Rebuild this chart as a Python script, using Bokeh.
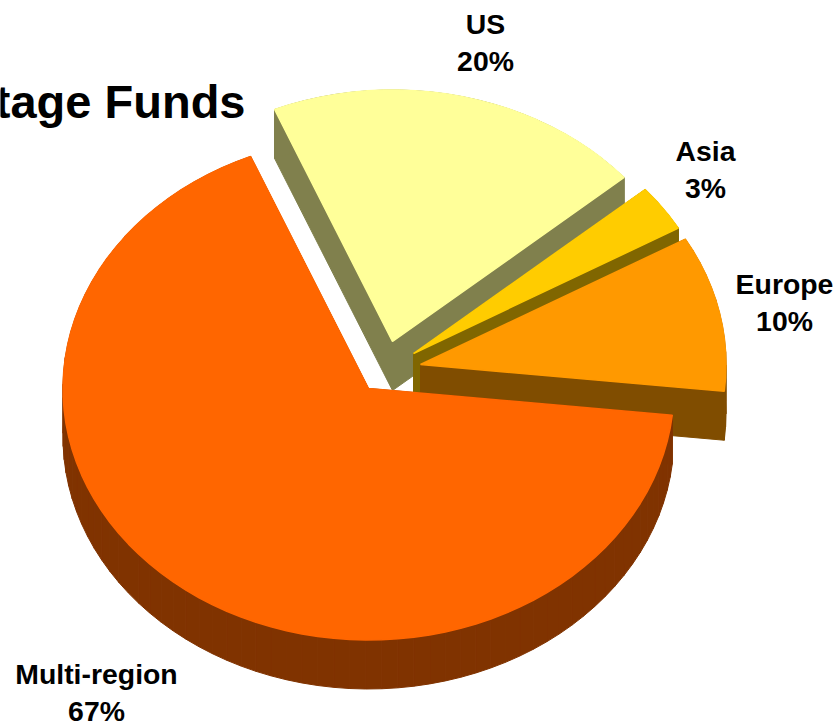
import math
from bokeh.plotting import figure
from bokeh.models import Range1d
from bokeh.core.properties import value
from bokeh.embed import file_html
from bokeh.resources import INLINE

# data
categories = ["US", "Asia", "Europe", "Multi-region"]
shares = [20, 3, 10, 67]
title_text = "tage Funds"

# styles and layout
top_colors = ["#FFFF99", "#FFCC00", "#FF9900", "#FF6600"]
wall_colors = ["#80804D", "#806600", "#804D00", "#803300"]
apexes = [(392, 341), (413, 353), (420, 364), (368, 388)]
label_pos = [(485, 23), (705, 150), (784, 283), (96, 673)]
RX, RY, DEPTH, START = 305.5, 251.5, 49, 112.7
LINE_GAP = 37


def slice_outline(cx, cy, a0, a1):
    steps = max(2, int(abs(a1 - a0) / 3))
    pts = [(cx, cy)]
    for i in range(steps + 1):
        a = math.radians(a0 + (a1 - a0) * i / steps)
        pts.append((cx + RX * math.cos(a), cy - RY * math.sin(a)))
    return pts


p = figure(width=839, height=725, output_backend="svg", toolbar_location=None,
           x_range=Range1d(0, 839), y_range=Range1d(725, 0),
           min_border=0, outline_line_color=None,
           background_fill_color="white", border_fill_color="white")
p.xaxis.visible = False
p.yaxis.visible = False
p.grid.visible = False

total = sum(shares)
angle = START
for share, top, wall, (cx, cy) in zip(shares, top_colors, wall_colors, apexes):
    end = angle - 360 * share / total
    pts = slice_outline(cx, cy, angle, end)
    n = len(pts)
    xs, ys = [], []
    for i in range(n):
        (x0, y0), (x1, y1) = pts[i], pts[(i + 1) % n]
        xs.append([x0, x1, x1, x0])
        ys.append([y0, y1, y1 + DEPTH, y0 + DEPTH])
    p.patches(xs, ys, fill_color=wall, line_color=wall, line_width=1)
    p.patch([q[0] for q in pts], [q[1] for q in pts], fill_color=top, line_color=top, line_width=1.5)
    angle = end

for name, share, (x, y) in zip(categories, shares, label_pos):
    for text, yy in ((name, y), (f"{share}%", y + LINE_GAP)):
        p.text([x], [yy], text=[text], text_font=value("Liberation Sans"), text_font_style="bold",
               text_font_size="28.4px", text_color="black", text_align="center", text_baseline="middle")

p.text([245], [101], text=[title_text], text_font=value("Liberation Sans"), text_font_style="bold",
       text_font_size="47px", text_color="black", text_align="right", text_baseline="alphabetic")

open("out.html", "w").write(file_html(p, INLINE))
